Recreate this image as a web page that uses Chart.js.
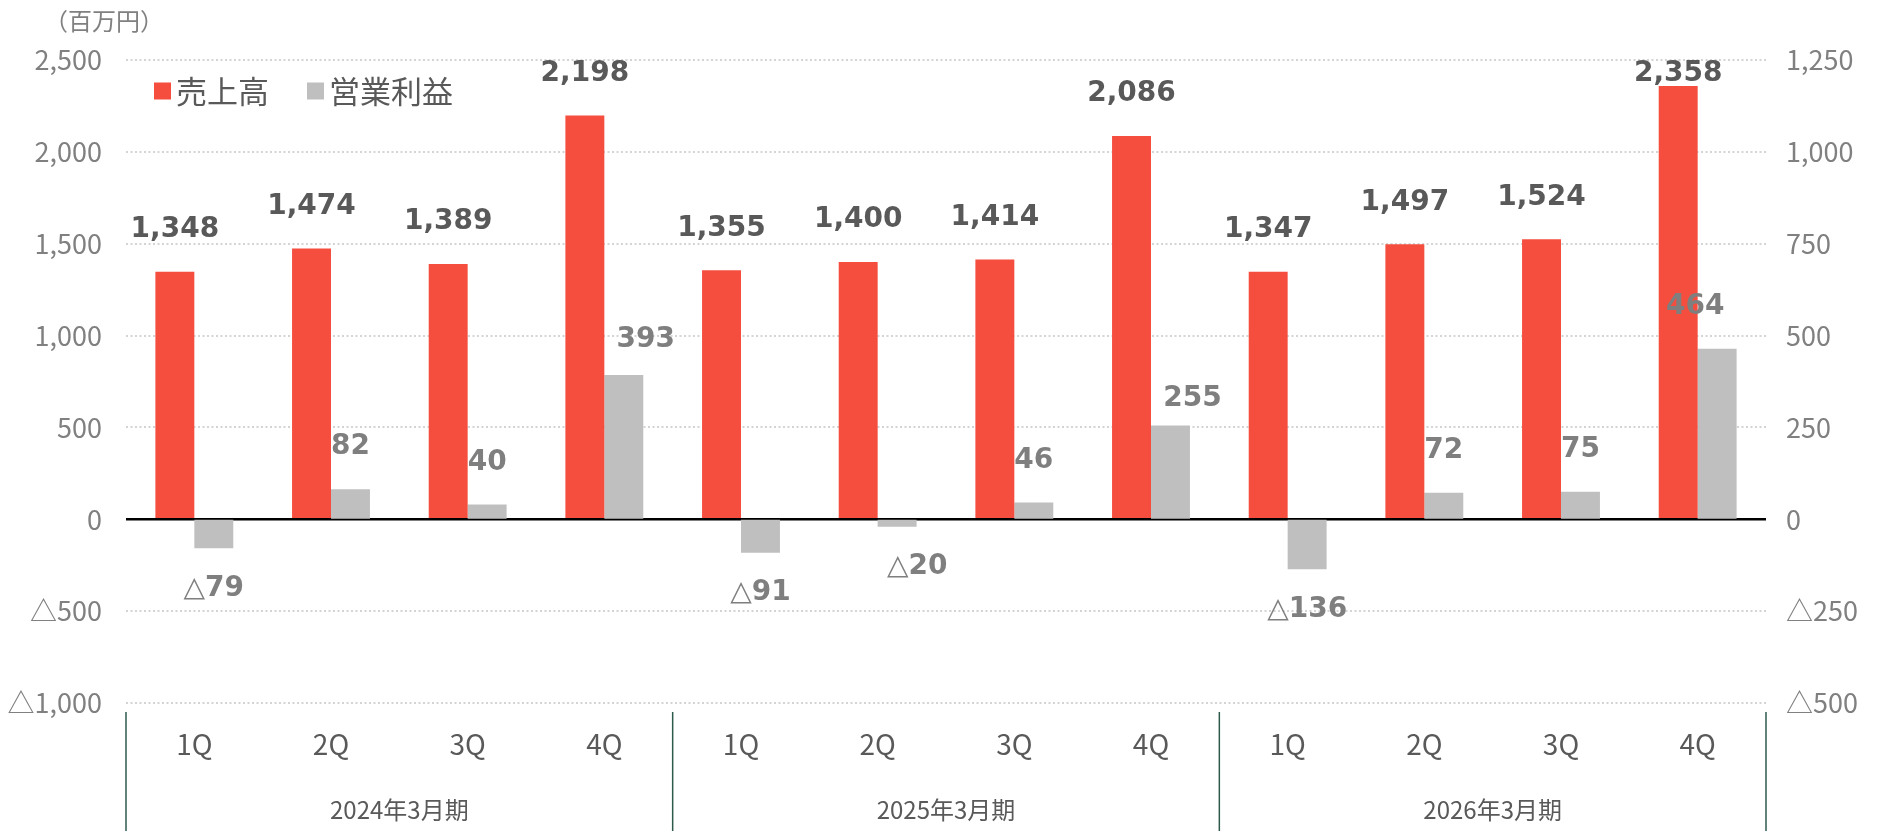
<!DOCTYPE html>
<html lang="ja">
<head>
<meta charset="utf-8">
<script src="https://cdn.jsdelivr.net/npm/chart.js@4"></script>
<style>
  html, body { margin: 0; padding: 0; background: #fff; }
  #wrap { width: 1877px; height: 831px; }
</style>
</head>
<body>
<div id="wrap"><canvas id="g_sales"></canvas></div>
<script>
const quarters = ["1Q", "2Q", "3Q", "4Q", "1Q", "2Q", "3Q", "4Q", "1Q", "2Q", "3Q", "4Q"]
const periods = ["2024年3月期", "2025年3月期", "2026年3月期"]
const sales = [1348, 1474, 1389, 2198, 1355, 1400, 1414, 2086, 1347, 1497, 1524, 2358]
const profit = [-79, 82, 40, 393, -91, -20, 46, 255, -136, 72, 75, 464]

const JP = "'Noto Sans CJK JP', 'Noto Sans', sans-serif"
const labelColors = ["#595959", "#7F7F7F"]
// 元の図で手で動かしてあるラベルだけ少しずらす [dx, dy]
const labelShift = [{}, { 3: [22, 7], 5: [20, 0], 7: [22, 15], 11: [-22, 0] }]

const fmt = v => (v < 0 ? "△" : "") + Math.abs(v).toLocaleString("en-US")

// 値ラベル・凡例・単位・期の区切り線
const extras = {
    id: "extras",
    afterDatasetsDraw(chart) {
        const ctx = chart.ctx
        const area = chart.chartArea
        ctx.save()
        ctx.textAlign = "center"
        ctx.textBaseline = "middle"
        ctx.font = "bold 28px 'DejaVu Sans', sans-serif"
        chart.data.datasets.forEach((ds, di) => {
            const meta = chart.getDatasetMeta(di)
            ctx.fillStyle = labelColors[di]
            meta.data.forEach((bar, i) => {
                const v = ds.data[i]
                const s = labelShift[di][i] || [0, 0]
                const y = v < 0 ? bar.y + 40 : Math.max(bar.y - 42, area.top + 14)
                ctx.fillText(fmt(v), bar.x + s[0], y + s[1])
            })
        })

        // 凡例
        ctx.textAlign = "left"
        ctx.font = "31px " + JP
        let x = area.left + 28
        const ly = area.top + 31
        chart.data.datasets.forEach(ds => {
            ctx.fillStyle = ds.backgroundColor
            ctx.fillRect(x, ly - 8.5, 17, 17)
            ctx.fillStyle = "#595959"
            ctx.fillText(ds.label, x + 22, ly)
            x += 22 + ctx.measureText(ds.label).width + 38
        })

        // 単位
        ctx.fillStyle = "#808080"
        ctx.font = "24px " + JP
        ctx.fillText("（百万円）", 44, 21)

        // 期の区切り線
        const xs = chart.scales.x
        const step = xs.width / quarters.length
        ctx.strokeStyle = "#2E5A4C"
        ctx.lineWidth = 1.5
        for (let k = 0; k <= quarters.length; k += 4) {
            const px = xs.left + k * step
            ctx.beginPath()
            ctx.moveTo(px, area.bottom + 9)
            ctx.lineTo(px, chart.height)
            ctx.stroke()
        }
        ctx.restore()
    }
}

const g_sales = document.getElementById("g_sales")

new Chart(g_sales, {
    type: "bar",
    data: {
        labels: quarters,
        datasets: [
            {
                label: "売上高",
                data: sales,
                backgroundColor: "#F54E3E",
                yAxisID: "y",
                categoryPercentage: 0.57,
                barPercentage: 1
            },
            {
                label: "営業利益",
                data: profit,
                backgroundColor: "#BFBFBF",
                yAxisID: "y1",
                categoryPercentage: 0.57,
                barPercentage: 1
            }
        ]
    },
    options: {
        responsive: true,
        maintainAspectRatio: false,
        animation: false,
        layout: { padding: { top: 60, left: 0, right: 0, bottom: 0 } },
        plugins: {
            legend: { display: false },
            tooltip: { enabled: false }
        },
        scales: {
            x: {
                grid: { display: false },
                border: { display: false },
                ticks: { color: "#595959", font: { family: JP, size: 28 }, padding: 17, maxRotation: 0 },
                afterFit: s => { s.height = 80 }
            },
            x2: {
                type: "category",
                labels: periods,
                position: "bottom",
                offset: true,
                grid: { display: false },
                border: { display: false },
                ticks: { color: "#595959", font: { family: JP, size: 24 }, padding: 4, maxRotation: 0 },
                afterFit: s => { s.height = 48 }
            },
            y: {
                position: "left",
                min: -1000,
                max: 2500,
                ticks: { stepSize: 500, callback: fmt, color: "#808080", font: { family: JP, size: 27 }, padding: 24 },
                grid: {
                    drawTicks: false,
                    color: c => c.tick.value === 0 ? "#000000" : "#D4D4D4",
                    lineWidth: c => c.tick.value === 0 ? 2.5 : 2
                },
                border: { display: false, dash: c => c.tick.value === 0 ? [] : [2, 2.5] },
                afterFit: s => { s.width = 126 }
            },
            y1: {
                position: "right",
                min: -500,
                max: 1250,
                ticks: { stepSize: 250, callback: fmt, color: "#808080", font: { family: JP, size: 27 }, padding: 20 },
                grid: { drawOnChartArea: false, drawTicks: false },
                border: { display: false },
                afterFit: s => { s.width = 111 }
            }
        }
    },
    plugins: [extras]
})
</script>
</body>
</html>
